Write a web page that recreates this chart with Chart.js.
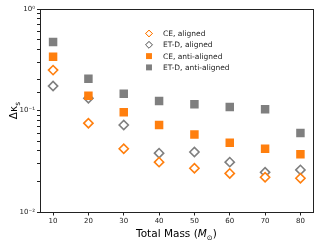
<!DOCTYPE html>
<html>
<head>
<meta charset="utf-8">
<script src="https://cdn.jsdelivr.net/npm/chart.js@4/dist/chart.umd.min.js"></script>
<style>
  html, body { margin: 0; padding: 0; background: #fff; }
  #wrap { width: 319px; height: 243px; }
</style>
</head>
<body>
<div id="wrap"><canvas id="chart" width="319" height="243"></canvas></div>
<script>
const masses = [10, 20, 30, 40, 50, 60, 70, 80];
const ceAligned = [0.25, 0.075, 0.042, 0.031, 0.027, 0.024, 0.022, 0.0215];
const etdAligned = [0.174, 0.132, 0.072, 0.038, 0.039, 0.031, 0.0246, 0.026];
const ceAnti = [0.339, 0.140, 0.096, 0.072, 0.058, 0.048, 0.042, 0.037];
const etdAnti = [0.473, 0.206, 0.146, 0.124, 0.115, 0.108, 0.103, 0.060];
const xTicks = [10, 20, 30, 40, 50, 60, 70, 80];
const yTickLabels = { '0': '10\u2070', '-1': '10\u207B\u00B9', '-2': '10\u207B\u00B2' };

const ORANGE = '#ff7f0e';
const GRAY = '#7f7f7f';
const FONT = "'DejaVu Sans', sans-serif";

const toPoints = vals => masses.map((m, i) => ({ x: m, y: vals[i] }));

const series = [
    { label: 'CE, aligned', data: ceAligned, color: ORANGE, hollow: true, order: 1 },
    { label: 'ET-D, aligned', data: etdAligned, color: GRAY, hollow: true, order: 2 },
    { label: 'CE, anti-aligned', data: ceAnti, color: ORANGE, hollow: false, order: 0 },
    { label: 'ET-D, anti-aligned', data: etdAnti, color: GRAY, hollow: false, order: 3 }
];

const datasets = series.map(s => ({
    label: s.label,
    data: toPoints(s.data),
    order: s.order,
    pointStyle: s.hollow ? 'rectRot' : 'rect',
    pointRadius: s.hollow ? 4.6 : 6,
    pointBorderWidth: s.hollow ? 1.6 : 0,
    pointBorderColor: s.color,
    pointBackgroundColor: s.hollow ? '#fff' : s.color,
    showLine: false
}));

// frame, axis titles and legend
const decorations = {
    id: 'decorations',
    afterDraw(chart) {
        const { ctx, chartArea: a } = chart;
        ctx.save();
        ctx.strokeStyle = '#222';
        ctx.lineWidth = 1;
        ctx.strokeRect(Math.round(a.left) + 0.5, Math.round(a.top) + 0.5,
            Math.round(a.right - a.left), Math.round(a.bottom - a.top));

        // x title: Total Mass (M_sun)
        ctx.fillStyle = '#000';
        ctx.textBaseline = 'alphabetic';
        const parts = [
            { t: 'Total Mass (', f: `10.5px ${FONT}`, dy: 0 },
            { t: 'M', f: `italic 10.5px ${FONT}`, dy: 0 },
            { t: '\u2299', f: `7px ${FONT}`, dy: 2.5 },
            { t: ')', f: `10.5px ${FONT}`, dy: 0 }
        ];
        let total = 0;
        parts.forEach(p => { ctx.font = p.f; p.w = ctx.measureText(p.t).width; total += p.w; });
        let x = (a.left + a.right) / 2 - total / 2;
        const baseY = 237;
        parts.forEach(p => {
            ctx.font = p.f;
            ctx.textAlign = 'left';
            ctx.fillText(p.t, x, baseY + p.dy);
            x += p.w;
        });

        // y title: delta kappa_s
        ctx.save();
        ctx.translate(17, (a.top + a.bottom) / 2);
        ctx.rotate(-Math.PI / 2);
        ctx.font = `10.5px ${FONT}`;
        const w1 = ctx.measureText('\u0394\u03BA').width;
        ctx.font = `7.5px ${FONT}`;
        const w2 = ctx.measureText('s').width;
        let sx = -(w1 + w2) / 2;
        ctx.font = `10.5px ${FONT}`;
        ctx.fillText('\u0394\u03BA', sx, 0);
        ctx.font = `7.5px ${FONT}`;
        ctx.fillText('s', sx + w1, 2.5);
        ctx.restore();

        // legend
        const lx = 149, ly = 33.5, step = 11.3;
        ctx.font = `7.5px ${FONT}`;
        ctx.textBaseline = 'middle';
        series.forEach((s, i) => {
            const y = ly + i * step;
            ctx.fillStyle = s.hollow ? '#fff' : s.color;
            ctx.strokeStyle = s.color;
            Chart.helpers.drawPoint(ctx, {
                pointStyle: s.hollow ? 'rectRot' : 'rect',
                radius: s.hollow ? 3.4 : 4.2,
                borderWidth: s.hollow ? 1.4 : 0,
                rotation: 0
            }, lx, y);
            if (s.hollow) ctx.stroke();
            ctx.fillStyle = '#222';
            ctx.fillText(s.label, 163, y + 0.5);
        });
        ctx.restore();
    }
};

new Chart(document.getElementById('chart'), {
    type: 'scatter',
    data: { datasets },
    options: {
        responsive: false,
        animation: false,
        layout: { padding: { top: 9, right: 6, left: 0, bottom: 0 } },
        plugins: {
            legend: { display: false },
            tooltip: { enabled: false }
        },
        scales: {
            x: {
                type: 'linear',
                min: 6.3,
                max: 83.5,
                afterBuildTicks: scale => { scale.ticks = xTicks.map(v => ({ value: v })); },
                afterFit: scale => { scale.height = 31; },
                grid: { drawOnChartArea: false, drawTicks: true, tickLength: 3.5, tickColor: '#222' },
                border: { display: true, color: '#222' },
                ticks: { color: '#222', padding: 1.5, font: { family: FONT, size: 7 }, maxRotation: 0 }
            },
            y: {
                type: 'logarithmic',
                min: 0.01,
                max: 1,
                afterFit: scale => { scale.width = 40; },
                grid: { drawOnChartArea: false, drawTicks: true, tickLength: 3, tickColor: '#222' },
                border: { display: true, color: '#222' },
                ticks: {
                    autoSkip: false,
                    color: '#222',
                    padding: 2,
                    font: { family: FONT, size: 7 },
                    callback: v => {
                        const e = Math.log10(v);
                        return Math.abs(e - Math.round(e)) < 1e-9 ? yTickLabels[String(Math.round(e))] : '';
                    }
                }
            }
        }
    },
    plugins: [decorations]
});
</script>
</body>
</html>
